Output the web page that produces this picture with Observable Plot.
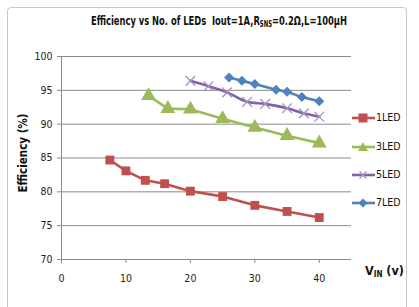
<!DOCTYPE html>
<html><head><meta charset="utf-8">
<script src="https://cdn.jsdelivr.net/npm/d3@7"></script>
<script src="https://cdn.jsdelivr.net/npm/@observablehq/plot@0.6"></script>
<style>
html,body{margin:0;padding:0;background:#fff;}
#wrap{position:relative;width:419px;height:307px;overflow:hidden;font-family:"Liberation Sans Narrow","DejaVu Sans Condensed","Open Sans",sans-serif;}
#border{position:absolute;left:7px;top:7px;width:400px;height:320px;border:1px solid #c8c8c8;border-radius:4px;box-sizing:border-box;}
#title{position:absolute;left:91px;top:13px;font-size:12.5px;font-weight:bold;color:#111;white-space:nowrap;transform-origin:0 0;}
#title sub{font-size:8px;vertical-align:-2px;}
#ylab{position:absolute;left:23px;top:153px;transform:translate(-50%,-50%) rotate(-90deg);font-size:11.5px;font-weight:bold;white-space:nowrap;color:#111;}
#xlab{position:absolute;left:365px;top:263px;font-size:12.5px;font-weight:bold;color:#111;}
#xlab sub{font-size:8px;vertical-align:-2px;}
#legend{position:absolute;left:350px;top:0;}
.li{position:absolute;left:0;width:70px;height:16px;font-size:10.5px;color:#111;}
.li svg{position:absolute;left:0;top:0;}
.li span{position:absolute;left:26px;top:1px;}
#chart{position:absolute;left:0;top:0;}
</style></head>
<body><div id="wrap"><div id="border"></div><div id="chart"></div>
<div id="title">Efficiency vs No. of LEDs&nbsp; Iout=1A,R<sub>SNS</sub>=0.2Ω,L=100µH</div>
<div id="ylab">Efficiency (%)</div>
<div id="xlab">V<sub>IN</sub> (v)</div>
<div id="legend"></div>
</div>
<script>
const seriesNames = ["1LED","3LED","5LED","7LED"];
const xs1 = [7.5,10,13,16,20,25,30,35,40];
const led1 = [84.7,83.1,81.7,81.2,80.1,79.3,78.0,77.1,76.2];
const xs3 = [13.5,16.5,20,25,30,35,40];
const led3 = [94.2,92.3,92.2,90.8,89.5,88.3,87.2];
const xs5 = [20,22.8,25.7,28.8,31.6,35,37.6,40];
const led5 = [96.4,95.6,94.7,93.3,93.0,92.35,91.6,91.1];
const xs7 = [26,28,30,33.3,35,37.3,40];
const led7 = [96.9,96.4,95.95,95.1,94.8,94.0,93.4];
const xTicks = [0,10,20,30,40];
const yTicks = [70,75,80,85,90,95,100];

const colors = ["#C0504D","#9BBB59","#8064A2","#4F81BD"];
const symbols = ["square","triangle","times","diamond2"];
const markFill = ["#C0504D","#9BBB59","none","#4F81BD"];
const markStroke = ["none","none","#A58FC9","none"];
const radii = [5,5.5,4.5,4.5];

const xsAll = [xs1,xs3,xs5,xs7];
const ysAll = [led1,led3,led5,led7];
const data = [];
seriesNames.forEach((s,i)=>xsAll[i].forEach((x,j)=>data.push({s,x,y:ysAll[i][j],i})));

const marks = [
  Plot.ruleY(yTicks.filter(v=>v>70),{stroke:"#8a8a8a",strokeWidth:1}),
  Plot.ruleY([70],{stroke:"#8a8a8a"}),
  Plot.ruleX([0],{stroke:"#8a8a8a"}),
  Plot.axisY({ticks:yTicks,tickSize:4,tickPadding:5,stroke:"#8a8a8a",fontSize:10.5,label:null,color:"#222"}),
  Plot.axisX({ticks:xTicks,tickSize:4,tickPadding:11,stroke:"#8a8a8a",fontSize:10.5,label:null,color:"#222"}),
];
seriesNames.forEach((s,i)=>{
  const d = data.filter(r=>r.i===i);
  marks.push(Plot.line(d,{x:"x",y:"y",stroke:colors[i],strokeWidth:2.6,curve: i===2?"catmull-rom":"linear"}));
});
seriesNames.forEach((s,i)=>{
  const d = data.filter(r=>r.i===i);
  marks.push(Plot.dot(d,{x:"x",y:"y",symbol:()=>symbols[i],r:radii[i],fill:markFill[i],stroke:markStroke[i],strokeWidth:1.3}));
});

const chart = Plot.plot({
  width:419,height:307,
  marginLeft:61,marginRight:68,marginTop:56,marginBottom:48,
  x:{domain:[0,45]},
  y:{domain:[70,100]},
  style:{fontFamily:'"Liberation Sans Narrow","DejaVu Sans Condensed","Open Sans",sans-serif',background:"transparent"},
  marks
});
document.getElementById("chart").appendChild(chart);

// compress title to reference width
const t = document.getElementById("title");
const w = t.getBoundingClientRect().width;
t.style.transform = `scaleX(${256 / w})`;

// legend
const legendY = [110,139,167,195];
const leg = document.getElementById("legend");
seriesNames.forEach((s,i)=>{
  const div = document.createElement("div");
  div.className="li"; div.style.top=legendY[i]+"px";
  let m="";
  if(i===0) m=`<rect x="8.5" y="3.5" width="9" height="9" fill="${colors[0]}"/>`;
  if(i===1) m=`<path d="M13,3 L18,12 L8,12 Z" fill="${colors[1]}"/>`;
  if(i===2) m=`<path d="M9.5,4.5 L16.5,11.5 M16.5,4.5 L9.5,11.5" stroke="#A58FC9" stroke-width="1.3"/>`;
  if(i===3) m=`<path d="M13,3.5 L17.5,8 L13,12.5 L8.5,8 Z" fill="${colors[3]}"/>`;
  div.innerHTML=`<svg width="26" height="16"><line x1="2" x2="25" y1="8" y2="8" stroke="${colors[i]}" stroke-width="2.6"/>${m}</svg><span>${s}</span>`;
  leg.appendChild(div);
});
</script></body></html>
